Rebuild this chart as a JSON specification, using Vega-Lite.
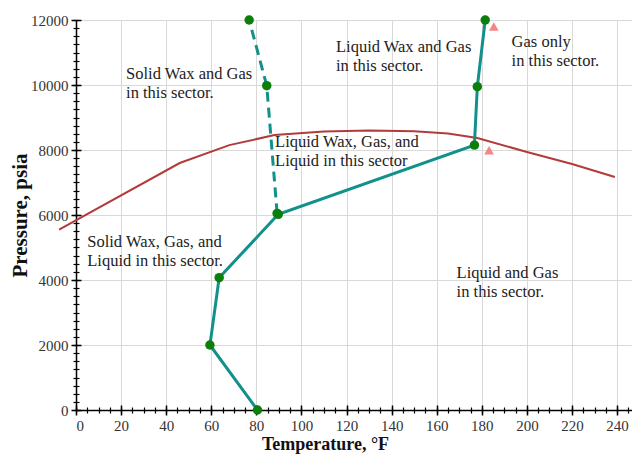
{
  "$schema": "https://vega.github.io/schema/vega-lite/v6.json",
  "width": 556,
  "height": 390,
  "autosize": {"type": "none"},
  "padding": {"left": 76, "top": 20, "right": 0, "bottom": 44},
  "background": "white",
  "config": {"view": {"stroke": null}, "font": "Liberation Serif"},
  "datasets": {
    "cloud": [
      {"T": -7.5, "P": 5550}, {"T": 46, "P": 7600}, {"T": 68, "P": 8150}, {"T": 88, "P": 8460},
      {"T": 110, "P": 8570}, {"T": 130, "P": 8600}, {"T": 150, "P": 8580}, {"T": 165, "P": 8510},
      {"T": 178, "P": 8370}, {"T": 200, "P": 7940}, {"T": 220, "P": 7570}, {"T": 239, "P": 7170}
    ],
    "wax": [
      {"i": 0, "T": 80.5, "P": 0}, {"i": 1, "T": 59.4, "P": 2000}, {"i": 2, "T": 63.5, "P": 4070},
      {"i": 3, "T": 89.7, "P": 6020}, {"i": 4, "T": 176.7, "P": 8150}, {"i": 5, "T": 178, "P": 9950},
      {"i": 6, "T": 181.5, "P": 12000}
    ],
    "solidWax": [
      {"i": 0, "T": 89.2, "P": 6050}, {"i": 1, "T": 84.6, "P": 9980}, {"i": 2, "T": 76.8, "P": 12000}
    ],
    "gasOnly": [{"T": 185.3, "P": 11800}, {"T": 183.2, "P": 7990}],
    "sectors": [
      {"T": 115.3, "P": 11030, "text": "Liquid Wax and Gas\nin this sector."},
      {"T": 193.2, "P": 11180, "text": "Gas only\n\u00a0in this sector."},
      {"T": 22.2, "P": 10185, "text": "Solid Wax and Gas\nin this sector."},
      {"T": 88.3, "P": 8100, "text": "Liquid Wax, Gas, and\n\u00a0Liquid in this sector"},
      {"T": 5.0, "P": 5025, "text": "Solid Wax, Gas, and\n\u00a0Liquid in this sector."},
      {"T": 168.8, "P": 4050, "text": "Liquid and Gas\nin this sector."}
    ]
  },
  "resolve": {"axis": {"x": "independent", "y": "independent"}},
  "layer": [
    {
      "data": {"name": "cloud"},
      "mark": {"type": "line", "color": "#b23b3b", "strokeWidth": 2},
      "encoding": {
        "x": {
          "field": "T", "type": "quantitative",
          "scale": {"domain": [0, 246.6], "nice": false, "zero": false},
          "axis": {
            "orient": "bottom",
            "values": [0, 20, 40, 60, 80, 100, 120, 140, 160, 180, 200, 220, 240],
            "format": "d",
            "grid": true, "gridColor": "#d9d9d9", "gridWidth": 1,
            "domainColor": "#000", "domainWidth": 1.5,
            "tickColor": "#000", "tickSize": 5, "tickWidth": 1.5,
            "labelFont": "Liberation Serif", "labelFontSize": 15, "labelColor": "#333", "labelPadding": 3,
            "title": "Temperature, °F", "titleFont": "Liberation Serif", "titleFontSize": 18,
            "titleFontWeight": "bold", "titleColor": "#111", "titleX": 249, "titlePadding": 2
          }
        },
        "y": {
          "field": "P", "type": "quantitative",
          "scale": {"domain": [0, 12000], "nice": false, "zero": false},
          "axis": {
            "orient": "left",
            "values": [0, 2000, 4000, 6000, 8000, 10000, 12000],
            "format": "d",
            "grid": true, "gridColor": "#d9d9d9", "gridWidth": 1,
            "domainColor": "#000", "domainWidth": 1.5,
            "tickColor": "#000", "tickSize": 5, "tickWidth": 1.5,
            "labelFont": "Liberation Serif", "labelFontSize": 15, "labelColor": "#333", "labelPadding": 3,
            "title": "Pressure, psia", "titleFont": "Liberation Serif", "titleFontSize": 21,
            "titleFontWeight": "bold", "titleColor": "#111", "titlePadding": 0
          }
        }
      }
    },
    {
      "data": {"name": "wax"},
      "mark": {"type": "line", "color": "#12908c", "strokeWidth": 3,
               "point": {"filled": true, "color": "#0b7f0b", "size": 90, "opacity": 1}},
      "encoding": {
        "x": {
          "field": "T", "type": "quantitative",
          "scale": {"domain": [0, 246.6], "nice": false, "zero": false},
          "axis": {
            "orient": "bottom", "offset": -5,
            "values": [0, 20, 40, 60, 80, 100, 120, 140, 160, 180, 200, 220, 240],
            "grid": false, "domain": false, "labels": false, "title": null,
            "tickColor": "#000", "tickSize": 5, "tickWidth": 1.5
          }
        },
        "y": {
          "field": "P", "type": "quantitative",
          "scale": {"domain": [0, 12000], "nice": false, "zero": false},
          "axis": {
            "orient": "left", "offset": -5,
            "values": [0, 2000, 4000, 6000, 8000, 10000, 12000],
            "grid": false, "domain": false, "labels": false, "title": null,
            "tickColor": "#000", "tickSize": 5, "tickWidth": 1.5
          }
        },
        "order": {"field": "i", "type": "quantitative"}
      }
    },
    {
      "data": {"name": "solidWax"},
      "mark": {"type": "line", "color": "#12908c", "strokeWidth": 3, "strokeDash": [10, 6],
               "point": {"filled": true, "color": "#0b7f0b", "size": 90, "opacity": 1}},
      "encoding": {
        "x": {
          "field": "T", "type": "quantitative",
          "scale": {"domain": [0, 246.6], "nice": false, "zero": false},
          "axis": {
            "orient": "bottom",
            "values": [0, 5, 10, 15, 20, 25, 30, 35, 40, 45, 50, 55, 60, 65, 70, 75, 80, 85, 90, 95, 100, 105, 110, 115, 120, 125, 130, 135, 140, 145, 150, 155, 160, 165, 170, 175, 180, 185, 190, 195, 200, 205, 210, 215, 220, 225, 230, 235, 240, 245],
            "grid": false, "domain": false, "labels": false, "title": null,
            "tickColor": "#000", "tickSize": 3, "tickWidth": 1.2
          }
        },
        "y": {
          "field": "P", "type": "quantitative",
          "scale": {"domain": [0, 12000], "nice": false, "zero": false},
          "axis": {
            "orient": "left",
            "values": [0, 250, 500, 750, 1000, 1250, 1500, 1750, 2000, 2250, 2500, 2750, 3000, 3250, 3500, 3750, 4000, 4250, 4500, 4750, 5000, 5250, 5500, 5750, 6000, 6250, 6500, 6750, 7000, 7250, 7500, 7750, 8000, 8250, 8500, 8750, 9000, 9250, 9500, 9750, 10000, 10250, 10500, 10750, 11000, 11250, 11500, 11750, 12000],
            "grid": false, "domain": false, "labels": false, "title": null,
            "tickColor": "#000", "tickSize": 3, "tickWidth": 1.2
          }
        },
        "order": {"field": "i", "type": "quantitative"}
      }
    },
    {
      "data": {"name": "gasOnly"},
      "mark": {"type": "point", "shape": "triangle-up", "filled": true, "color": "#f4868a", "size": 95, "opacity": 1},
      "encoding": {
        "x": {
          "field": "T", "type": "quantitative",
          "scale": {"domain": [0, 246.6], "nice": false, "zero": false},
          "axis": {
            "orient": "bottom", "offset": -3,
            "values": [0, 5, 10, 15, 20, 25, 30, 35, 40, 45, 50, 55, 60, 65, 70, 75, 80, 85, 90, 95, 100, 105, 110, 115, 120, 125, 130, 135, 140, 145, 150, 155, 160, 165, 170, 175, 180, 185, 190, 195, 200, 205, 210, 215, 220, 225, 230, 235, 240, 245],
            "grid": false, "domain": false, "labels": false, "title": null,
            "tickColor": "#000", "tickSize": 3, "tickWidth": 1.2
          }
        },
        "y": {
          "field": "P", "type": "quantitative",
          "scale": {"domain": [0, 12000], "nice": false, "zero": false},
          "axis": {
            "orient": "left", "offset": -3,
            "values": [0, 250, 500, 750, 1000, 1250, 1500, 1750, 2000, 2250, 2500, 2750, 3000, 3250, 3500, 3750, 4000, 4250, 4500, 4750, 5000, 5250, 5500, 5750, 6000, 6250, 6500, 6750, 7000, 7250, 7500, 7750, 8000, 8250, 8500, 8750, 9000, 9250, 9500, 9750, 10000, 10250, 10500, 10750, 11000, 11250, 11500, 11750, 12000],
            "grid": false, "domain": false, "labels": false, "title": null,
            "tickColor": "#000", "tickSize": 3, "tickWidth": 1.2
          }
        }
      }
    },
    {
      "mark": {"type": "rule", "color": "#555", "strokeWidth": 1.5},
      "encoding": {
        "y": {"datum": 12000, "type": "quantitative",
              "scale": {"domain": [0, 12000], "nice": false, "zero": false}, "axis": null}
      }
    },
    {
      "data": {"name": "sectors"},
      "mark": {"type": "text", "align": "left", "baseline": "alphabetic", "lineBreak": "\n",
               "lineHeight": 19, "font": "Liberation Serif", "fontSize": 16.5, "color": "#222"},
      "encoding": {
        "x": {"field": "T", "type": "quantitative",
              "scale": {"domain": [0, 246.6], "nice": false, "zero": false}, "axis": null},
        "y": {"field": "P", "type": "quantitative",
              "scale": {"domain": [0, 12000], "nice": false, "zero": false}, "axis": null},
        "text": {"field": "text"}
      }
    }
  ]
}
